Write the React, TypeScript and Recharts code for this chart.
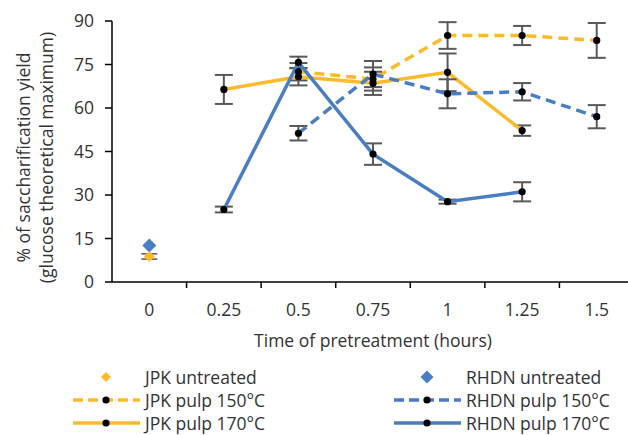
import { ErrorBar, Line, LineChart, XAxis, YAxis } from "recharts";

const timeLabels = ["0", "0.25", "0.5", "0.75", "1", "1.25", "1.5"];

// values, one entry per time
const jpkUntreated = [8.8, null, null, null, null, null, null];
const jpkUntreatedErr = [0.9, null, null, null, null, null, null];
const rhdnUntreated = [12.6, null, null, null, null, null, null];
const jpk150 = [null, null, 72.5, 70, 85, 85, 83.3];
const jpk150Err = [null, null, 3, 4, 4.6, 3.3, 6];
const jpk170 = [null, 66.4, 70.8, 68.5, 72.3, 52.2, null];
const jpk170Err = [null, 5, 3, 4, 6.5, 1.8, null];
const rhdn150 = [null, null, 51.3, 71.7, 64.9, 65.6, 57];
const rhdn150Err = [null, null, 2.5, 4.5, 5, 3, 4];
const rhdn170 = [null, 25, 75.7, 44.1, 27.7, 31.1, null];
const rhdn170Err = [null, 1, 2, 3.7, 0.7, 3.3, null];

const yTicks = [0, 15, 30, 45, 60, 75, 90];

const YELLOW = "#FDBA2C";
const BLUE = "#4A7EC4";
const ERR = "#595959";
const FONT = "'Open Sans', Lato, sans-serif";
const FS = 17.5;
const TXT = "#333333";

const CHART_W = 640;
const Y_AXIS_W = 112;
const M_RIGHT = 6;
const BAND = (CHART_W - Y_AXIS_W - M_RIGHT) / timeLabels.length;

const rows = timeLabels.map((_, i) => ({
  x: i,
  jpkU: jpkUntreated[i],
  jpkUErr: jpkUntreatedErr[i],
  rhdnU: rhdnUntreated[i],
  jpk150: jpk150[i],
  jpk150Err: jpk150Err[i],
  jpk170: jpk170[i],
  jpk170Err: jpk170Err[i],
  rhdn150: rhdn150[i],
  rhdn150Err: rhdn150Err[i],
  rhdn170: rhdn170[i],
  rhdn170Err: rhdn170Err[i],
}));

function XTick(props: any) {
  const { x, y, payload } = props;
  const axisY = y - 20;
  const last = payload.value >= timeLabels.length - 1;
  return (
    <g>
      <text
        x={x}
        y={axisY + 27}
        textAnchor="middle"
        dominantBaseline="central"
        fontFamily={FONT}
        fontSize={FS}
        fill={TXT}
      >
        {timeLabels[payload.value]}
      </text>
      {!last && (
        <line
          x1={x + BAND / 2}
          x2={x + BAND / 2}
          y1={axisY}
          y2={axisY + 6}
          stroke="#000"
          strokeWidth={1.5}
        />
      )}
    </g>
  );
}

function diamond(color: string, size: number) {
  return (p: any) => {
    const { cx, cy, index } = p;
    if (cx == null || cy == null || p.value == null) return <g key={index} />;
    return (
      <path
        key={index}
        d={`M${cx},${cy - size} L${cx + size},${cy} L${cx},${cy + size} L${cx - size},${cy} Z`}
        fill={color}
      />
    );
  };
}

const blackDot = { r: 3.6, fill: "#000", stroke: "#000", strokeWidth: 0 };

function LegendRow({ x, y, color, dashed, label }: any) {
  return (
    <g>
      <line
        x1={x}
        x2={x + 67}
        y1={y}
        y2={y}
        stroke={color}
        strokeWidth={3.5}
        strokeDasharray={dashed ? "10 5" : undefined}
      />
      <circle cx={x + 33} cy={y} r={3.6} fill="#000" />
      <text x={x + 72} y={y} dominantBaseline="central" fontFamily={FONT} fontSize={FS} fill={TXT}>
        {label}
      </text>
    </g>
  );
}

function LegendDiamond({ x, y, color, size, label }: any) {
  return (
    <g>
      <path
        d={`M${x + 33},${y - size} L${x + 33 + size},${y} L${x + 33},${y + size} L${x + 33 - size},${y} Z`}
        fill={color}
      />
      <text x={x + 72} y={y} dominantBaseline="central" fontFamily={FONT} fontSize={FS} fill={TXT}>
        {label}
      </text>
    </g>
  );
}

export default function App() {
  return (
    <div
      style={{
        position: "absolute",
        left: 0,
        top: 0,
        width: 628,
        height: 435,
        overflow: "hidden",
        background: "#fff",
      }}
    >
      <LineChart
        width={CHART_W}
        height={360}
        data={rows}
        margin={{ top: 21, right: M_RIGHT, left: 0, bottom: 8 }}
      >
        <XAxis
          dataKey="x"
          type="number"
          domain={[-0.5, timeLabels.length - 0.5]}
          ticks={timeLabels.map((_, i) => i)}
          tick={<XTick />}
          tickLine={false}
          tickSize={6}
          tickMargin={14}
          height={70}
          axisLine={{ stroke: "#000", strokeWidth: 1.5 }}
          label={{
            content: ({ viewBox }: any) => (
              <text
                x={viewBox.x + viewBox.width / 2}
                y={viewBox.y + 58}
                textAnchor="middle"
                dominantBaseline="central"
                fontFamily={FONT}
                fontSize={FS}
                fill={TXT}
              >
                Time of pretreatment (hours)
              </text>
            ),
          }}
        />
        <YAxis
          width={Y_AXIS_W}
          domain={[0, 90]}
          ticks={yTicks}
          tickSize={7}
          tickMargin={11}
          tick={{ fontFamily: FONT, fontSize: FS, fill: TXT }}
          tickLine={{ stroke: "#000", strokeWidth: 1.5 }}
          axisLine={{ stroke: "#000", strokeWidth: 1.5 }}
          label={{
            content: ({ viewBox }: any) => {
              const cy = viewBox.y + viewBox.height / 2 + 6;
              return (
                <g fontFamily={FONT} fontSize={FS} fill={TXT}>
                  <text
                    transform={`translate(${viewBox.x + 23},${cy}) rotate(-90)`}
                    textAnchor="middle"
                    dominantBaseline="central"
                  >
                    % of saccharification yield
                  </text>
                  <text
                    transform={`translate(${viewBox.x + 46},${cy}) rotate(-90)`}
                    textAnchor="middle"
                    dominantBaseline="central"
                  >
                    (glucose theoretical maximum)
                  </text>
                </g>
              );
            },
          }}
        />
        <Line
          dataKey="jpk150"
          stroke={YELLOW}
          strokeWidth={3.5}
          strokeDasharray="10 6"
          dot={blackDot}
          activeDot={false}
          isAnimationActive={false}
        >
          <ErrorBar dataKey="jpk150Err" width={9} stroke={ERR} strokeWidth={2} />
        </Line>
        <Line
          dataKey="jpk170"
          stroke={YELLOW}
          strokeWidth={3.5}
          dot={blackDot}
          activeDot={false}
          isAnimationActive={false}
        >
          <ErrorBar dataKey="jpk170Err" width={9} stroke={ERR} strokeWidth={2} />
        </Line>
        <Line
          dataKey="rhdn150"
          stroke={BLUE}
          strokeWidth={3.5}
          strokeDasharray="10 6"
          dot={blackDot}
          activeDot={false}
          isAnimationActive={false}
        >
          <ErrorBar dataKey="rhdn150Err" width={9} stroke={ERR} strokeWidth={2} />
        </Line>
        <Line
          dataKey="rhdn170"
          stroke={BLUE}
          strokeWidth={3.5}
          dot={blackDot}
          activeDot={false}
          isAnimationActive={false}
        >
          <ErrorBar dataKey="rhdn170Err" width={9} stroke={ERR} strokeWidth={2} />
        </Line>
        <Line
          dataKey="rhdnU"
          stroke="none"
          dot={diamond(BLUE, 7)}
          activeDot={false}
          isAnimationActive={false}
        />
        <Line
          dataKey="jpkU"
          stroke="none"
          dot={diamond(YELLOW, 5.5)}
          activeDot={false}
          isAnimationActive={false}
        >
          <ErrorBar dataKey="jpkUErr" width={8} stroke={ERR} strokeWidth={1.5} />
        </Line>
      </LineChart>
      <svg
        width={628}
        height={75}
        style={{ position: "absolute", left: 0, top: 360 }}
      >
        <LegendDiamond x={73} y={17} color={YELLOW} size={5} label="JPK untreated" />
        <LegendRow x={73} y={40} color={YELLOW} dashed label="JPK pulp 150°C" />
        <LegendRow x={73} y={63} color={YELLOW} label="JPK pulp 170°C" />
        <LegendDiamond x={394} y={17} color={BLUE} size={6.5} label="RHDN untreated" />
        <LegendRow x={394} y={40} color={BLUE} dashed label="RHDN pulp 150°C" />
        <LegendRow x={394} y={63} color={BLUE} label="RHDN pulp 170°C" />
      </svg>
    </div>
  );
}
